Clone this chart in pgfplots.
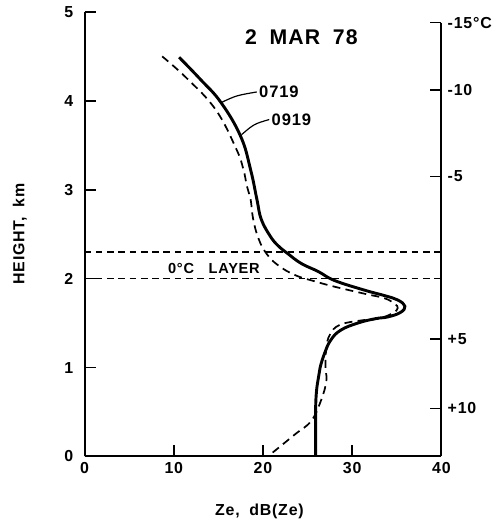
\documentclass[border=0pt]{standalone}
\usepackage{pgfplots}
\pgfplotsset{compat=1.18}
\usepackage{fontspec}
\setmainfont{Liberation Sans}[LetterSpace=5]
\pgfplotstableread{
x y
10.6 4.49
13.0 4.24
15.3 3.98
17.5 3.60
18.6 3.23
19.3 2.90
19.8 2.67
20.8 2.48
21.7 2.37
22.8 2.28
24.3 2.17
26.2 2.08
28.0 1.98
31.4 1.87
33.6 1.81
35.1 1.76
35.9 1.69
35.4 1.62
34.0 1.57
32.6 1.55
30.6 1.50
28.7 1.42
27.6 1.31
26.9 1.16
26.4 1.00
26.2 0.88
26.0 0.74
25.9 0.55
25.9 0.30
25.9 0.00
}\solid
\pgfplotstableread{
x y
8.7 4.50
11.5 4.25
14.7 3.90
17.0 3.46
17.8 3.23
18.2 3.04
18.6 2.90
18.9 2.67
19.5 2.45
20.4 2.28
21.7 2.15
23.6 2.04
25.8 1.97
28.0 1.91
31.4 1.83
33.6 1.78
34.7 1.72
35.1 1.67
34.5 1.61
32.9 1.55
31.0 1.53
28.6 1.48
27.5 1.37
27.1 1.22
27.0 1.00
27.1 0.85
26.5 0.63
25.4 0.40
23.6 0.25
21.4 0.07
20.9 0.03
}\dashed
\begin{document}
\begin{tikzpicture}
\path (-63.7pt,-48pt) rectangle (310pt,344pt);
\begin{axis}[
  scale only axis, width=269pt, height=335pt,
  xmin=0, xmax=40, ymin=0, ymax=5,
  axis x line*=bottom, axis y line*=left,
  axis line style={-, line width=1.5pt},
  xtick={0,10,20,30,40}, xticklabels={0,10,20,30,40},
  ytick={0,1,2,3,4,5}, yticklabels={0,1,2,3,4,5},
  tick align=inside, major tick length=8.5pt,
  tick style={line width=1.2pt, black},
  tick label style={font=\fontsize{12}{14}\selectfont\bfseries},
  yticklabel style={xshift=-5pt},
  xticklabel style={yshift=-1pt},
  xlabel={Ze,\hspace{0.6em}dB(Ze)}, ylabel={HEIGHT,\hspace{0.6em}km},
  label style={font=\fontsize{12}{14}\selectfont\bfseries},
  xlabel style={at={(axis description cs:0.49,-0.123)}, anchor=center},
  ylabel style={at={(axis description cs:-0.181,0.5)}, anchor=center},
  clip=false,
]
\addplot[black, line width=1.0pt, dash pattern=on 5pt off 3.5pt] coordinates {(0,2.3) (40,2.3)};
\addplot[black, line width=1.0pt, dash pattern=on 5pt off 3.5pt] coordinates {(0,2.0) (40,2.0)};
\addplot[black, line width=2.2pt, smooth, tension=0.7] table {\solid};
\addplot[black, line width=1.3pt, dash pattern=on 6pt off 4pt, smooth, tension=0.7] table {\dashed};
\draw[line width=1.5pt] (axis cs:40,0) -- (axis cs:40,4.88);
\draw[line width=0.9pt] (axis cs:15.3,3.98) .. controls (axis cs:17,4.06) .. (axis cs:19.3,4.10);
\draw[line width=0.9pt] (axis cs:17.6,3.62) .. controls (axis cs:19,3.74) .. (axis cs:20.7,3.79);
\node[anchor=west, inner sep=1pt, font=\fontsize{12.5}{14}\selectfont\bfseries] at (axis cs:19.4,4.10) {0719};
\node[anchor=west, inner sep=1pt, font=\fontsize{12.5}{14}\selectfont\bfseries] at (axis cs:20.8,3.79) {0919};
\node[font=\fontsize{16}{18}\selectfont\bfseries] at (axis cs:24.3,4.72) {2\hspace{0.6em}MAR\hspace{0.6em}78};
\node[font=\fontsize{11}{13}\selectfont\bfseries] at (axis cs:14.5,2.12) {0°C\hspace{1em}LAYER};
\end{axis}
\begin{axis}[
  scale only axis, width=269pt, height=335pt,
  xmin=0, xmax=40, ymin=0, ymax=5,
  axis x line=none, axis y line*=right,
  y axis line style={draw=none},
  ytick={0.54,1.32,3.15,4.12,4.88},
  yticklabels={+10,+5,-5,-10,-15°C},
  tick align=inside, major tick length=9pt,
  tick style={line width=1.2pt, black},
  tick label style={font=\fontsize{12}{14}\selectfont\bfseries},
  yticklabel style={inner sep=0pt, xshift=4.5pt},
]
\addplot[draw=none] coordinates {(0,0) (40,5)};
\end{axis}
\end{tikzpicture}
\end{document}
